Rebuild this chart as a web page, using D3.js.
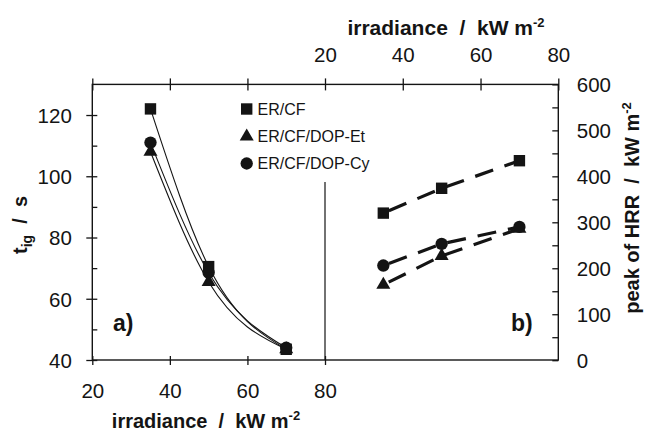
<!DOCTYPE html>
<html><head><meta charset="utf-8">
<script src="https://cdn.jsdelivr.net/npm/d3@7"></script>
<style>
body{margin:0;background:#fff;}
svg text{font-family:"Liberation Sans",Arial,sans-serif;fill:#141414;}
</style></head>
<body>
<svg id="c" width="646" height="431"></svg>
<script>
// ---- data ----
const irradiance = [35, 50, 70];
const seriesNames = ["ER/CF", "ER/CF/DOP-Et", "ER/CF/DOP-Cy"];
const seriesSymbols = ["square", "triangle", "circle"];
const tigERCF = [122, 70.5, 43.5];
const tigDOPEt = [108, 65.5, 43.5];
const tigDOPCy = [111, 68.5, 44];
const hrrERCF = [320, 374, 434];
const hrrDOPEt = [164, 227, 286];
const hrrDOPCy = [206, 253, 290];
const xTicks = [20, 40, 60, 80];
const tigTicks = [40, 60, 80, 100, 120];
const tigMinor = [50, 70, 90, 110];
const hrrTicks = [0, 100, 200, 300, 400, 500, 600];
const hrrMinor = [50, 150, 250, 350, 450, 550];

const ink = "#141414";
const svg = d3.select("#c");

const xL = d3.scaleLinear([20, 80], [92.3, 325]);
const xR = d3.scaleLinear([20, 80], [325, 558.3]);
const yL = d3.scaleLinear([40, 130], [360, 84.4]);
const yR = d3.scaleLinear([0, 600], [360.2, 84.4]);

const symType = {square: d3.symbolSquare, triangle: d3.symbolTriangle, circle: d3.symbolCircle};
const symSize = {square: 130, triangle: 85, circle: 120};
function sym(name){ return d3.symbol().type(symType[name]).size(symSize[name])(); }

// frame
svg.append("rect").attr("x", xL(20)).attr("y", yL(130))
  .attr("width", xR(80) - xL(20)).attr("height", yL(40) - yL(130))
  .attr("fill", "none").attr("stroke", ink).attr("stroke-width", 1.4);
// divider
svg.append("line").attr("x1", xL(80)).attr("x2", xL(80)).attr("y1", 182).attr("y2", yL(40))
  .attr("stroke", ink).attr("stroke-width", 1.2);

function styleAxis(g){
  g.select(".domain").remove();
  g.selectAll(".tick line").attr("stroke", ink).attr("stroke-width", 1.3);
  g.selectAll(".tick text").attr("font-size", 20.5).attr("fill", ink);
}

// left axis
const gl = svg.append("g").attr("transform", `translate(${xL(20)},0)`)
  .call(d3.axisLeft(yL).tickValues(tigTicks).tickSize(6).tickSizeOuter(0).tickFormat(d3.format("d")));
styleAxis(gl);
gl.selectAll(".tick line").attr("x1", 5);
gl.selectAll(".tick text").attr("x", -20.5).attr("dy", "0.36em");
const glm = svg.append("g").attr("transform", `translate(${xL(20)},0)`)
  .call(d3.axisLeft(yL).tickValues(tigMinor).tickSize(-5).tickSizeOuter(0).tickFormat(""));
styleAxis(glm);

// bottom axis
const gb = svg.append("g").attr("transform", `translate(0,${yL(40)})`)
  .call(d3.axisBottom(xL).tickValues(xTicks).tickSize(5).tickSizeOuter(0).tickFormat(d3.format("d")));
styleAxis(gb);
gb.selectAll(".tick line").attr("y1", -4);
gb.selectAll(".tick text").attr("y", 38).attr("dy", 0);

// top axis (mirror ticks for left panel, labelled for right panel)
const gtm = svg.append("g").attr("transform", `translate(0,${yL(130)})`)
  .call(d3.axisTop(xL).tickValues([20, 40, 60]).tickSize(6).tickSizeOuter(0).tickFormat(""));
styleAxis(gtm);
gtm.selectAll(".tick line").attr("y1", 6);
const gt = svg.append("g").attr("transform", `translate(0,${yL(130)})`)
  .call(d3.axisTop(xR).tickValues(xTicks).tickSize(6).tickSizeOuter(0).tickFormat(d3.format("d")));
styleAxis(gt);
gt.selectAll(".tick line").attr("y1", 6);
gt.selectAll(".tick text").attr("y", -22.6).attr("dy", 0);

// right axis
const gr = svg.append("g").attr("transform", `translate(${xR(80)},0)`)
  .call(d3.axisRight(yR).tickValues(hrrTicks).tickSize(-6).tickSizeOuter(0).tickFormat(d3.format("d")));
styleAxis(gr);
gr.selectAll(".tick text").attr("x", 18.5).attr("dy", "0.36em");
const grm = svg.append("g").attr("transform", `translate(${xR(80)},0)`)
  .call(d3.axisRight(yR).tickValues(hrrMinor).tickSize(-6).tickSizeOuter(0).tickFormat(""));
styleAxis(grm);

// axis titles
function sup(t, main, s){
  t.append("tspan").text(main);
  t.append("tspan").attr("dy", -8).attr("font-size", 13).text(s);
}
const tb = svg.append("text").attr("x", 206).attr("y", 428).attr("text-anchor", "middle")
  .attr("font-size", 20).attr("font-weight", "bold").attr("xml:space", "preserve");
sup(tb, "irradiance  /  kW m", "-2");
const tt = svg.append("text").attr("x", 446).attr("y", 35).attr("text-anchor", "middle")
  .attr("font-size", 21).attr("font-weight", "bold").attr("xml:space", "preserve");
sup(tt, "irradiance  /  kW m", "-2");

const tl = svg.append("text").attr("transform", "translate(27,225) rotate(-90)")
  .attr("text-anchor", "middle").attr("font-size", 20).attr("font-weight", "bold").attr("xml:space", "preserve");
tl.append("tspan").text("t");
tl.append("tspan").attr("dy", 5).attr("font-size", 14).text("ig");
tl.append("tspan").attr("dy", -5).text("  /  s");

const tr = svg.append("text").attr("transform", "translate(639,208) rotate(-90)")
  .attr("text-anchor", "middle").attr("font-size", 20).attr("font-weight", "bold").attr("xml:space", "preserve");
sup(tr, "peak of HRR  /  kW m", "-2");

// panel labels
svg.append("text").attr("x", 113).attr("y", 331).attr("font-size", 23).attr("font-weight", "bold").text("a)");
svg.append("text").attr("x", 511).attr("y", 331).attr("font-size", 23).attr("font-weight", "bold").text("b)");

// panel a: smooth curves + markers
const tigSeries = [tigERCF, tigDOPEt, tigDOPCy];
const lineL = d3.line().x((d, i) => xL(irradiance[i])).y(d => yL(d)).curve(d3.curveMonotoneX);
tigSeries.forEach(s => {
  svg.append("path").attr("d", lineL(s)).attr("fill", "none").attr("stroke", ink).attr("stroke-width", 1.1);
});
[2, 1, 0].forEach(k => {
  svg.append("g").selectAll("path").data(tigSeries[k]).join("path")
    .attr("transform", (d, i) => `translate(${xL(irradiance[i])},${yL(d)})`)
    .attr("d", sym(seriesSymbols[k])).attr("fill", ink);
});

// panel b: dashed lines + markers
const hrrSeries = [hrrERCF, hrrDOPEt, hrrDOPCy];
const lineR = d3.line().x((d, i) => xR(irradiance[i])).y(d => yR(d));
hrrSeries.forEach(s => {
  svg.append("path").attr("d", lineR(s)).attr("fill", "none").attr("stroke", ink)
    .attr("stroke-width", 3.2).attr("stroke-dasharray", "19,12").attr("stroke-dashoffset", -6);
});
[1, 2, 0].forEach(k => {
  svg.append("g").selectAll("path").data(hrrSeries[k]).join("path")
    .attr("transform", (d, i) => `translate(${xR(irradiance[i])},${yR(d)})`)
    .attr("d", sym(seriesSymbols[k])).attr("fill", ink);
});

// legend
const legRows = [109, 136.5, 163.5];
seriesNames.forEach((n, k) => {
  svg.append("path").attr("transform", `translate(246.7,${legRows[k]})`)
    .attr("d", sym(seriesSymbols[k])).attr("fill", ink);
  svg.append("text").attr("x", 257.5).attr("y", legRows[k]).attr("dy", "0.36em")
    .attr("font-size", 16).text(n);
});
</script>
</body></html>
